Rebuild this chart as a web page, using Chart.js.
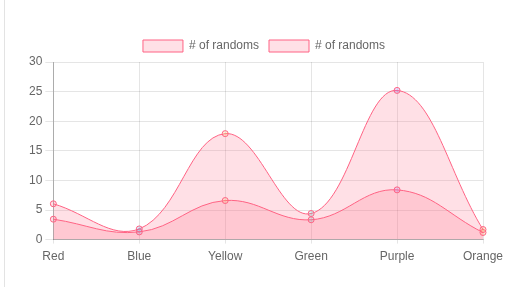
<!DOCTYPE html>
<html>
<head>
<meta charset="utf-8">
<script src="https://cdn.jsdelivr.net/npm/chart.js@4/dist/chart.umd.min.js"></script>
<style>
  body { margin: 0; background: #fff; }
  #wrap { position: absolute; left: 4px; top: 0; width: 518px; height: 287px; border-left: 1px solid #e3e3e3; }
  #mycanvas { position: absolute; left: 0; top: 0; }
</style>
</head>
<body>
<div id="wrap"><canvas id="mycanvas" width="517" height="287"></canvas></div>
<script>
var labels = ["Red", "Blue", "Yellow", "Green", "Purple", "Orange"];
var randoms1 = [6.05, 1.8, 17.9, 4.4, 25.2, 1.7];
var randoms2 = [3.45, 1.3, 6.6, 3.35, 8.4, 1.2];
var yTicks = [0, 5, 10, 15, 20, 25, 30];

var pointColors = [
	"rgba(255, 99, 132, 0.2)",
	"rgba(54, 162, 235, 0.2)",
	"rgba(255, 206, 86, 0.2)",
	"rgba(75, 192, 192, 0.2)",
	"rgba(153, 102, 255, 0.2)",
	"rgba(255, 159, 64, 0.2)"
];

Chart.defaults.font.family = "'Helvetica Neue', Helvetica, Arial, 'Liberation Sans', sans-serif";
Chart.defaults.font.size = 12;
Chart.defaults.color = "#666";

function makeSet(data) {
	return {
		label: "# of randoms",
		data: data,
		fill: "origin",
		tension: 0.4,
		borderWidth: 1,
		backgroundColor: "rgba(255, 99, 132, 0.2)",
		borderColor: "rgba(255, 99, 132, 1)",
		pointRadius: 3,
		pointBorderWidth: 1,
		pointBackgroundColor: pointColors,
		pointBorderColor: "rgba(255, 99, 132, 1)"
	};
}

var ctx = document.getElementById("mycanvas");
var LineGraph = new Chart(ctx, {
	type: "line",
	data: {
		labels: labels,
		datasets: [makeSet(randoms1), makeSet(randoms2)]
	},
	options: {
		responsive: false,
		animation: false,
		layout: { padding: { left: 21, right: 20, top: 30, bottom: 17 } },
		plugins: {
			legend: {
				labels: { boxWidth: 40, boxHeight: 12, padding: 10 }
			},
			tooltip: { enabled: false }
		},
		scales: {
			x: {
				grid: { color: "rgba(0,0,0,0.1)", tickLength: 4 },
				border: { color: "rgba(0,0,0,0.25)" },
				ticks: { maxRotation: 0, padding: 6 }
			},
			y: {
				min: 0,
				max: 30,
				afterBuildTicks: function(axis) {
					axis.ticks = yTicks.map(function(v) { return { value: v }; });
				},
				grid: { color: "rgba(0,0,0,0.1)" },
				border: { color: "rgba(0,0,0,0.25)" }
			},
			// empty spacer on the right so the plot ends before the legend area does
			spacer: {
				type: "linear",
				position: "right",
				display: true,
				grid: { display: false },
				border: { display: false },
				ticks: { display: false },
				afterFit: function(axis) { axis.width = 19; }
			}
		}
	}
});
</script>
</body>
</html>
